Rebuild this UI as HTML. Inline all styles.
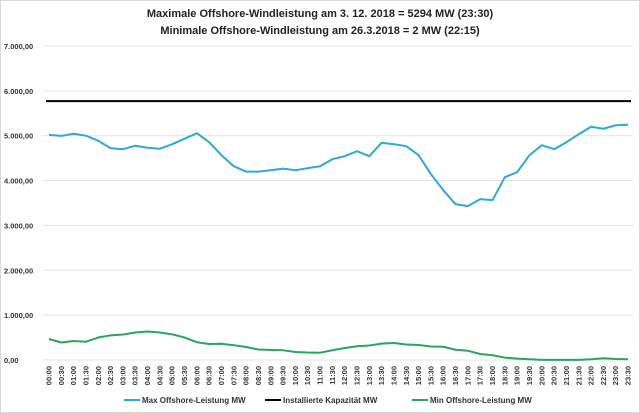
<!DOCTYPE html>
<html><head><meta charset="utf-8"><style>
body{margin:0;background:#fff;}
svg{display:block;font-family:"Liberation Sans",sans-serif;}
</style></head><body>
<svg id="chart" width="640" height="413" viewBox="0 0 640 413">
<rect x="0.5" y="0.5" width="639" height="412" fill="#fff" stroke="#d9d9d9"/>
<text x="320" y="17" text-anchor="middle" font-size="11" font-weight="bold" fill="#222">Maximale Offshore-Windleistung  am 3. 12. 2018 = 5294 MW (23:30)</text>
<text x="320" y="34" text-anchor="middle" font-size="11" font-weight="bold" fill="#222">Minimale Offshore-Windleistung  am 26.3.2018 = 2 MW (22:15)</text>
<g id="grid"></g><g id="ylabels"></g><g id="xlabels"></g><g id="series"></g>
<g font-size="8" font-weight="bold" fill="#333">
<line x1="124" y1="400" x2="140" y2="400" stroke="#2ea8d8" stroke-width="2"/>
<text x="142" y="403">Max Offshore-Leistung MW</text>
<line x1="265" y1="400" x2="281" y2="400" stroke="#000" stroke-width="2"/>
<text x="283" y="403">Installierte Kapazität MW</text>
<line x1="412" y1="400" x2="428" y2="400" stroke="#2aa65a" stroke-width="2"/>
<text x="430" y="403">Min Offshore-Leistung MW</text>
</g>
</svg>
<script>
const yTicks=[0,1000,2000,3000,4000,5000,6000,7000];
const yTickLabels=["0,00","1.000,00","2.000,00","3.000,00","4.000,00","5.000,00","6.000,00","7.000,00"];
const categories=[];
for(let h=0;h<24;h++){for(const m of ["00","30"]){categories.push((h<10?"0":"")+h+":"+m);}}
const maxSeries=[5018,4995,5044,5000,4888,4721,4699,4777,4732,4710,4810,4933,5055,4855,4565,4320,4198,4198,4231,4265,4231,4276,4320,4476,4543,4654,4543,4844,4810,4766,4565,4142,3786,3474,3430,3585,3563,4075,4187,4565,4788,4699,4855,5033,5200,5155,5233,5245];
const minSeries=[468,390,423,408,501,550,568,612,635,612,572,501,396,356,363,330,290,234,223,216,178,167,163,218,267,307,323,365,379,345,334,301,296,229,205,134,105,53,31,18,2,2,2,2,16,40,22,16];
const capacity=[5770];
const NS="http://www.w3.org/2000/svg";
const X0=49,DX=12.32,Y0=360,YS=0.04486,PL=43,PR=633;
function xs(i){return X0+i*DX;}
function ys(v){return Y0-v*YS;}
function mk(tag,attrs,parent){const e=document.createElementNS(NS,tag);for(const k in attrs)e.setAttribute(k,attrs[k]);parent.appendChild(e);return e;}
const grid=document.getElementById('grid'),yl=document.getElementById('ylabels'),xl=document.getElementById('xlabels'),sr=document.getElementById('series');
yTicks.forEach((t,i)=>{
 const l=mk('line',{x1:PL,x2:PR,y1:ys(t),y2:ys(t),stroke:'#e3e3e3','stroke-width':1},grid);
 
 
 const tx=mk('text',{x:4,y:ys(t)+3,'font-size':'7.5','font-weight':'bold',fill:'#333'},yl);
 tx.textContent=yTickLabels[i];
 
 
});
categories.forEach((c,i)=>{
 const x=xs(i)+2.5,y=366;
 const tx=mk('text',{x:x,y:y,'font-size':'7.5','font-weight':'bold',fill:'#333','text-anchor':'end',transform:`rotate(-90 ${x} ${y})`},xl);
 tx.textContent=c;
 
 
});
const cap=mk('line',{x1:xs(0)-3,x2:xs(categories.length-1)+3,y1:ys(capacity[0]),y2:ys(capacity[0]),stroke:'#000','stroke-width':2},sr);


function poly(data,color,name){
 const p=mk('polyline',{points:data.map((v,i)=>xs(i)+','+ys(v)).join(' '),fill:'none',stroke:color,'stroke-width':2,'stroke-linejoin':'round'},sr);
 
 
}
poly(maxSeries,'#2ea8d8','max-series-line');
poly(minSeries,'#2aa65a','min-series-line');
</script>
</body></html>
